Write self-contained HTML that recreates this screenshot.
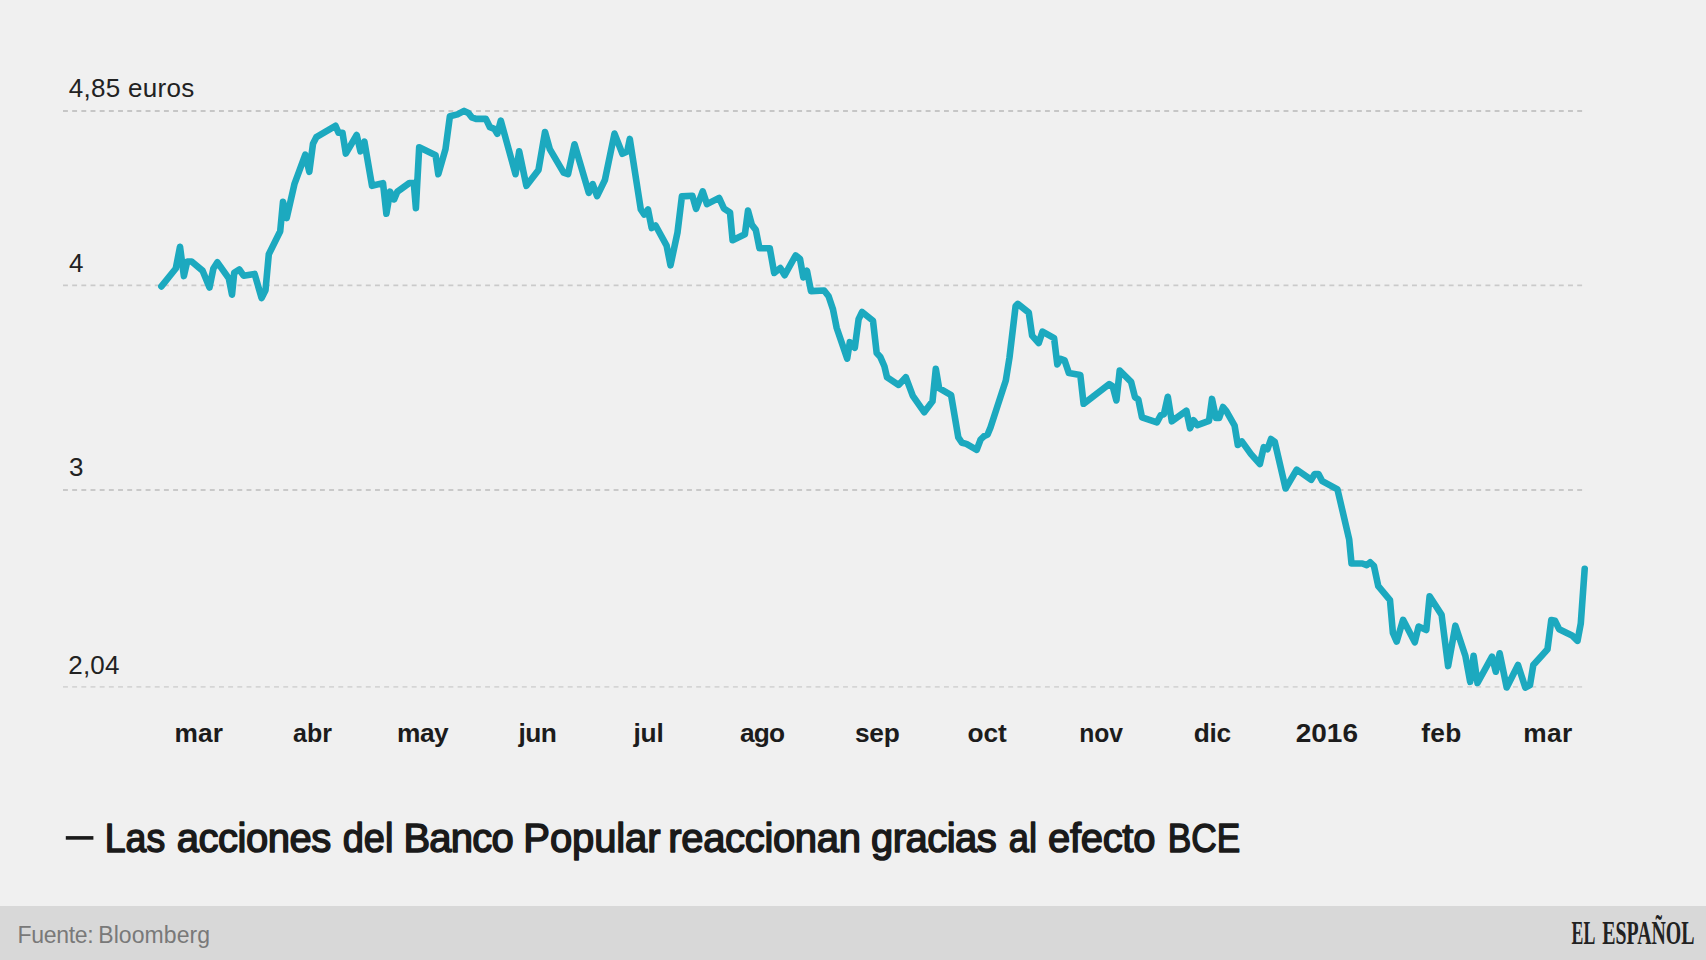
<!DOCTYPE html>
<html lang="es">
<head>
<meta charset="utf-8">
<title>Las acciones del Banco Popular reaccionan gracias al efecto BCE</title>
<style>
html,body{margin:0;padding:0;}
body{width:1706px;height:960px;background:#f0f0f0;position:relative;overflow:hidden;font-family:"Liberation Sans",sans-serif;}
#footer{position:absolute;left:0;top:906px;width:1706px;height:54px;background:#d8d8d8;}
#chart{position:absolute;left:0;top:0;width:1706px;height:960px;}
</style>
</head>
<body>
<div id="footer"></div>
<svg id="chart" width="1706" height="960" viewBox="0 0 1706 960">
  <g stroke-width="1.8" stroke-dasharray="4.9 4.277" fill="none">
    <line x1="63" y1="111" x2="1582.2" y2="111" stroke="#c6c6c6"/>
    <line x1="63" y1="285.35" x2="1582.2" y2="285.35" stroke="#cacaca"/>
    <line x1="63" y1="490" x2="1582.2" y2="490" stroke="#c9c9c9"/>
    <line x1="63" y1="686.9" x2="1582.2" y2="686.9" stroke="#d5d5d5"/>
  </g>
  <polyline fill="none" stroke="#1ca9bf" stroke-width="6.6" stroke-linejoin="round" stroke-linecap="round" points="161.4,286.4 175.8,268.5 180,246.8 183.9,276.1 187.2,261.5 191.6,261.5 202.5,270.6 209.5,287.5 213.4,268.5 217.4,262.3 228.8,278.3 232,294.7 234.2,272.8 239.3,269.5 243.6,275.7 254.6,273.9 261.6,298 265.5,290.3 268.8,254.2 280.2,231.3 283,201.7 286.7,218.1 294.4,184.2 305.3,154.7 309.3,171.8 313,143.8 316.3,137.2 335.5,125.8 338.6,132.8 342.5,132.8 345.8,153.6 356.7,135 360.5,151.4 364.4,141.6 372,185.8 383,183.1 386.4,213.8 390.1,191.7 394.1,199.4 397.3,191.7 409.4,183 413.8,183 415.9,208.1 419.2,147.3 435.6,155.2 438.3,174.2 445.5,149.1 449.9,116.3 457.5,114.4 464.1,110.9 468.4,112.9 471.7,117.3 476.1,118.9 485.9,118.9 489.9,127.2 494.3,128.9 497.3,133.8 500.8,120.6 515.5,174.2 519.2,151.3 526.4,185.8 538.5,169.9 545,132 549.8,149.1 563.6,172.7 568,174.2 574.5,144.3 588.8,192.8 592.7,184.1 597.1,196.1 604.9,180 614.5,133.6 622.4,153.8 627.2,151.6 629.8,138.9 640.8,209.5 644.3,214.6 648,209.5 651.7,228.1 655.6,225.5 666.6,245.6 670.5,265.3 677.5,232.5 681.9,196.4 692.4,195.8 696.1,208.9 702.7,191.4 707,204.1 719.1,197.9 723.9,208.4 730,212.4 732.6,240.2 744.9,234.3 748,210.6 751.9,224.9 755.8,229.9 759.5,248.3 769.8,248.3 774.2,273 780.3,268 784.7,275.2 795.6,255.5 800,258.8 803.3,277.4 807,270.8 811,291.1 824.1,290.5 828.6,296.3 833,309.4 836.7,328 847.2,358.6 849.8,342.2 854.8,347.7 858.6,319.2 862.1,312 873,320.8 876.7,353.1 880.4,357.1 884.4,366.3 887,377.2 898.6,384.9 905.8,377.2 912.8,395.8 924.2,412.2 932.5,401.3 935.8,368.9 939.1,388.1 951.1,395.1 958.3,437.4 962,442.8 966.4,443.9 976.7,449.8 980.6,439.5 983.9,436.3 987.6,434.5 990.5,427.5 1005.8,380.5 1009.5,357.5 1015.6,306.1 1017.8,303.9 1028.8,312.7 1032.1,335.6 1038.7,343.1 1042.5,331.6 1054.1,338.1 1057.3,364.4 1060.6,358.9 1064.6,360.4 1068.9,373.1 1080.3,374.9 1083.6,403.8 1109.2,384.1 1112.7,386.3 1116.4,400.5 1119.7,370.5 1131.1,381.9 1135,397.2 1138.3,399.4 1142,417.3 1156.9,422.4 1160.8,415.1 1163.9,414.3 1167.8,396.8 1171.8,421.3 1186.4,410.8 1190.1,428.3 1193.6,420.2 1197.4,425.2 1209,420.8 1212,398.9 1216,418 1219.2,418 1223,407 1226.5,411.4 1234.6,425.6 1237.8,444.9 1241.8,441.4 1251,454.1 1259.9,464.1 1263.8,447.1 1267.4,449.3 1271,439 1274.8,441.9 1285.6,488.5 1296.7,469.6 1311.2,479.8 1314.7,474 1318.5,474 1322.3,481.2 1337.5,489.4 1349.2,539.6 1351.5,563.5 1362.3,563.5 1366.7,565.2 1370.2,562.3 1373.9,565.8 1378.3,586.2 1390,600.2 1392.9,632.9 1396.7,641.6 1403.1,619.8 1414.8,642.2 1418.6,626.5 1426.3,630 1429.6,596.2 1441.6,614.9 1448.1,666.1 1455.4,625.7 1465.4,656 1470.2,681.8 1473.6,655.7 1477.5,683 1492,656.7 1495.8,671.7 1499.7,653.3 1506.7,687.5 1518,665 1525.3,687.5 1530,685 1533.3,665 1541.7,655.8 1547.5,649.2 1551.3,620 1555,620.8 1559.2,629.2 1572.5,635.8 1577.5,640.8 1580.8,623.3 1584.7,568.8"/>
  <rect x="65.8" y="836.1" width="27.6" height="3.6" fill="#1a1a1a"/>
  <text x="68.80" y="96.70" font-family="'Liberation Sans', sans-serif" font-size="26.0" font-weight="normal" fill="#222" letter-spacing="0.282"  >4,85 euros</text>
  <text x="68.90" y="271.60" font-family="'Liberation Sans', sans-serif" font-size="26.0" font-weight="normal" fill="#222" letter-spacing="0.000"  >4</text>
  <text x="69.00" y="476.00" font-family="'Liberation Sans', sans-serif" font-size="26.0" font-weight="normal" fill="#222" letter-spacing="0.000"  >3</text>
  <text x="68.30" y="673.50" font-family="'Liberation Sans', sans-serif" font-size="26.0" font-weight="normal" fill="#222" letter-spacing="0.152"  >2,04</text>
  <text x="174.50" y="742.00" font-family="'Liberation Sans', sans-serif" font-size="26.3" font-weight="bold" fill="#1c1c1c" letter-spacing="0.146"  >mar</text>
  <text x="293.10" y="742.00" font-family="'Liberation Sans', sans-serif" font-size="26.3" font-weight="bold" fill="#1c1c1c"  textLength="38.92" lengthAdjust="spacingAndGlyphs" >abr</text>
  <text x="397.10" y="742.00" font-family="'Liberation Sans', sans-serif" font-size="26.3" font-weight="bold" fill="#1c1c1c" letter-spacing="-0.554"  >may</text>
  <text x="518.50" y="742.00" font-family="'Liberation Sans', sans-serif" font-size="26.3" font-weight="bold" fill="#1c1c1c" letter-spacing="-0.535"  >jun</text>
  <text x="633.50" y="742.00" font-family="'Liberation Sans', sans-serif" font-size="26.3" font-weight="bold" fill="#1c1c1c" letter-spacing="-0.235"  >jul</text>
  <text x="740.10" y="742.00" font-family="'Liberation Sans', sans-serif" font-size="26.3" font-weight="bold" fill="#1c1c1c" letter-spacing="-0.894"  >ago</text>
  <text x="854.90" y="742.00" font-family="'Liberation Sans', sans-serif" font-size="26.3" font-weight="bold" fill="#1c1c1c" letter-spacing="-0.175"  >sep</text>
  <text x="967.50" y="742.00" font-family="'Liberation Sans', sans-serif" font-size="26.3" font-weight="bold" fill="#1c1c1c" letter-spacing="-0.094"  >oct</text>
  <text x="1079.16" y="742.00" font-family="'Liberation Sans', sans-serif" font-size="26.3" font-weight="bold" fill="#1c1c1c"  textLength="43.89" lengthAdjust="spacingAndGlyphs" >nov</text>
  <text x="1193.80" y="742.00" font-family="'Liberation Sans', sans-serif" font-size="26.3" font-weight="bold" fill="#1c1c1c" letter-spacing="-0.335"  >dic</text>
  <text x="1295.70" y="742.00" font-family="'Liberation Sans', sans-serif" font-size="26.3" font-weight="bold" fill="#1c1c1c"  textLength="62.27" lengthAdjust="spacingAndGlyphs" >2016</text>
  <text x="1421.30" y="742.00" font-family="'Liberation Sans', sans-serif" font-size="26.3" font-weight="bold" fill="#1c1c1c" letter-spacing="0.259"  >feb</text>
  <text x="1523.20" y="742.00" font-family="'Liberation Sans', sans-serif" font-size="26.3" font-weight="bold" fill="#1c1c1c" letter-spacing="0.346"  >mar</text>
  <text x="104.63" y="851.90" font-family="'Liberation Sans', sans-serif" font-size="40.0" font-weight="normal" fill="#1a1a1a"  textLength="60.56" lengthAdjust="spacingAndGlyphs" stroke="#1a1a1a" stroke-width="1.5" stroke-linejoin="round">Las</text>
  <text x="176.85" y="851.90" font-family="'Liberation Sans', sans-serif" font-size="40.0" font-weight="normal" fill="#1a1a1a" letter-spacing="-0.496"  stroke="#1a1a1a" stroke-width="1.5" stroke-linejoin="round">acciones</text>
  <text x="342.70" y="851.90" font-family="'Liberation Sans', sans-serif" font-size="40.0" font-weight="normal" fill="#1a1a1a"  textLength="50.74" lengthAdjust="spacingAndGlyphs" stroke="#1a1a1a" stroke-width="1.5" stroke-linejoin="round">del</text>
  <text x="403.45" y="851.90" font-family="'Liberation Sans', sans-serif" font-size="40.0" font-weight="normal" fill="#1a1a1a" letter-spacing="-0.793"  stroke="#1a1a1a" stroke-width="1.5" stroke-linejoin="round">Banco</text>
  <text x="523.35" y="851.90" font-family="'Liberation Sans', sans-serif" font-size="40.0" font-weight="normal" fill="#1a1a1a" letter-spacing="-0.108"  stroke="#1a1a1a" stroke-width="1.5" stroke-linejoin="round">Popular</text>
  <text x="668.35" y="851.90" font-family="'Liberation Sans', sans-serif" font-size="40.0" font-weight="normal" fill="#1a1a1a" letter-spacing="-0.349"  stroke="#1a1a1a" stroke-width="1.5" stroke-linejoin="round">reaccionan</text>
  <text x="871.05" y="851.90" font-family="'Liberation Sans', sans-serif" font-size="40.0" font-weight="normal" fill="#1a1a1a" letter-spacing="-0.558"  stroke="#1a1a1a" stroke-width="1.5" stroke-linejoin="round">gracias</text>
  <text x="1008.74" y="851.90" font-family="'Liberation Sans', sans-serif" font-size="40.0" font-weight="normal" fill="#1a1a1a"  textLength="28.22" lengthAdjust="spacingAndGlyphs" stroke="#1a1a1a" stroke-width="1.5" stroke-linejoin="round">al</text>
  <text x="1048.05" y="851.90" font-family="'Liberation Sans', sans-serif" font-size="40.0" font-weight="normal" fill="#1a1a1a" letter-spacing="-0.324"  stroke="#1a1a1a" stroke-width="1.5" stroke-linejoin="round">efecto</text>
  <text x="1167.81" y="851.90" font-family="'Liberation Sans', sans-serif" font-size="40.0" font-weight="normal" fill="#1a1a1a"  textLength="72.42" lengthAdjust="spacingAndGlyphs" stroke="#1a1a1a" stroke-width="1.5" stroke-linejoin="round">BCE</text>
  <text x="17.50" y="942.60" font-family="'Liberation Sans', sans-serif" font-size="23.0" font-weight="normal" fill="#797979" letter-spacing="-0.301"  >Fuente:</text>
  <text x="98.30" y="942.60" font-family="'Liberation Sans', sans-serif" font-size="23.0" font-weight="normal" fill="#797979" letter-spacing="0.058"  >Bloomberg</text>
  <text x="1571.60" y="944.00" font-family="'Liberation Serif', serif" font-size="33.7" font-weight="bold" fill="#222"  textLength="23.65" lengthAdjust="spacingAndGlyphs" >EL</text>
  <text x="1602.30" y="944.00" font-family="'Liberation Serif', serif" font-size="33.7" font-weight="bold" fill="#222"  textLength="92.18" lengthAdjust="spacingAndGlyphs" >ESPAÑOL</text>
</svg>
</body>
</html>
